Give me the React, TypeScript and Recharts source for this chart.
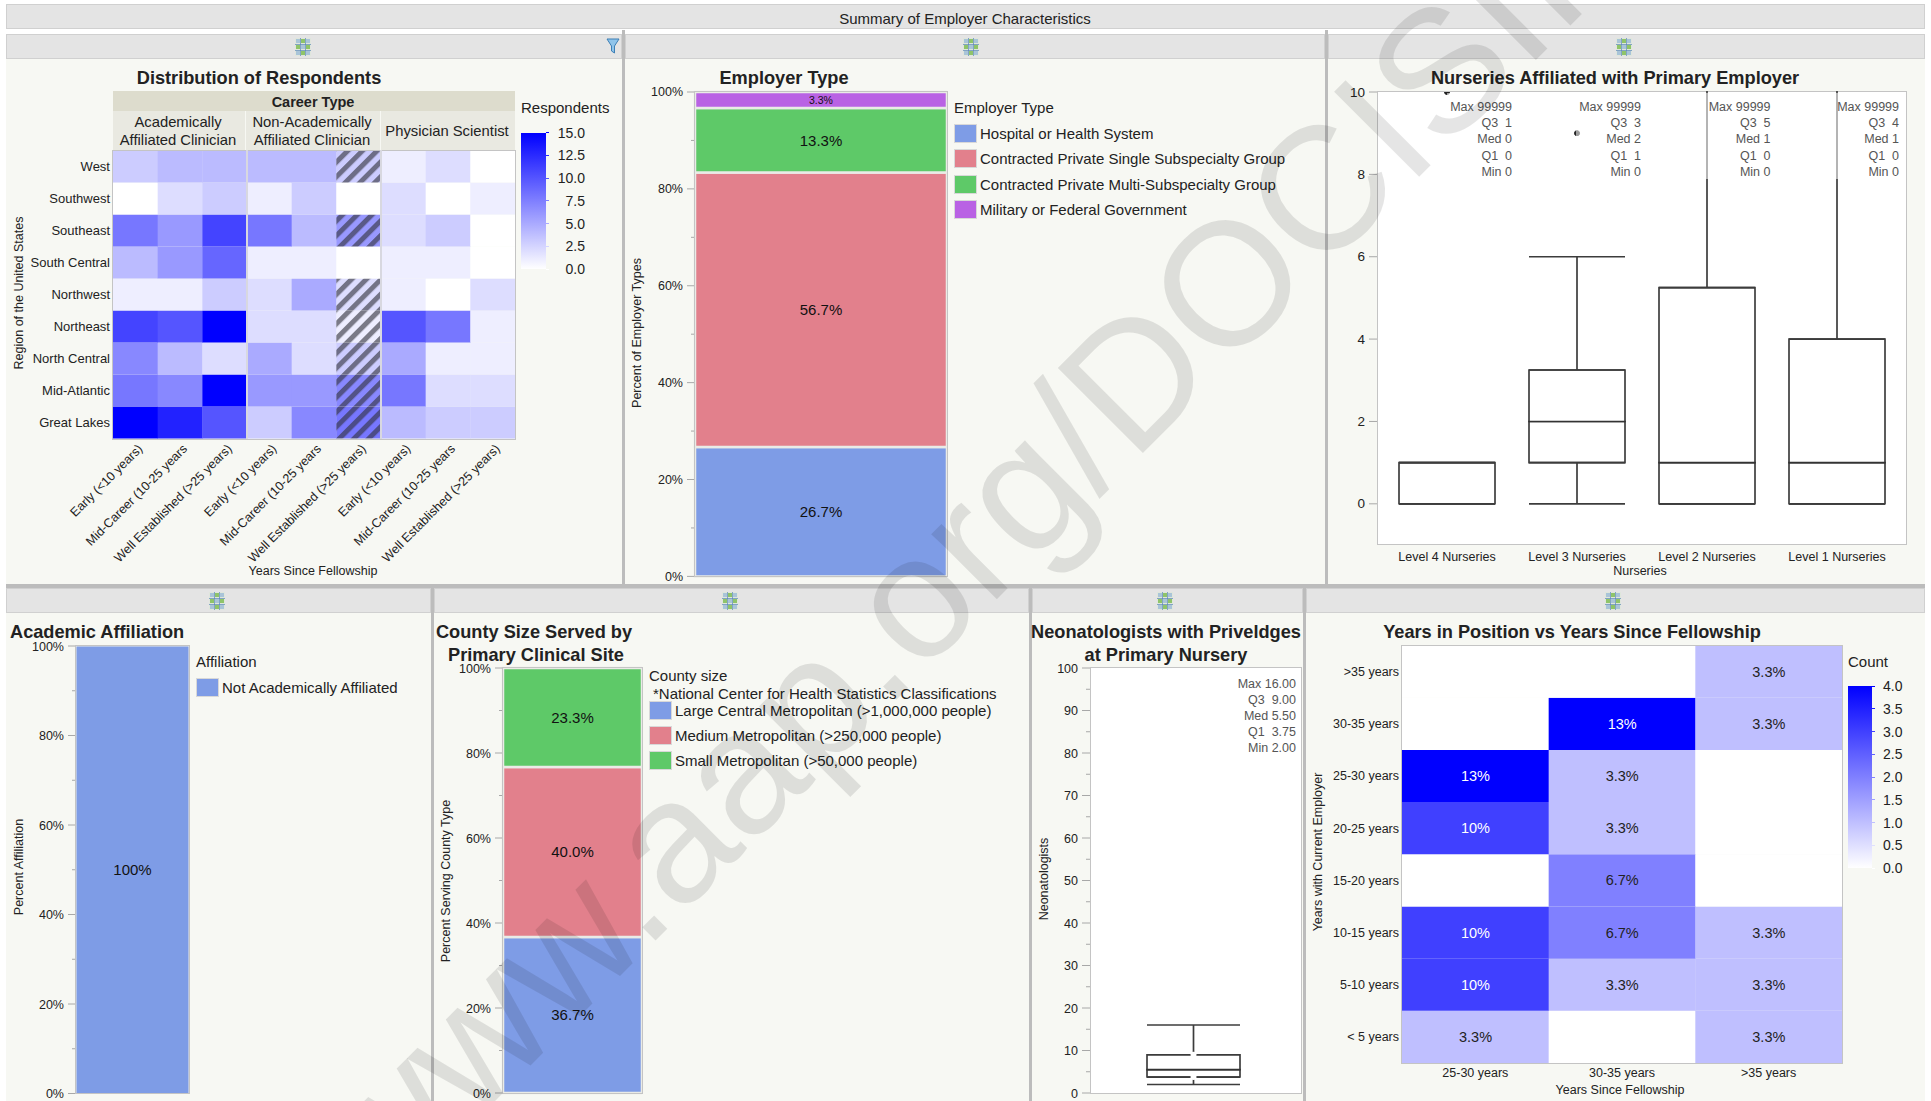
import React from 'react'
import { Bar, BarChart, Cell, ComposedChart, ErrorBar, LabelList, Line, XAxis, YAxis } from 'recharts'

// --- data ---
const regions = ['West', 'Southwest', 'Southeast', 'South Central', 'Northwest', 'Northeast', 'North Central', 'Mid-Atlantic', 'Great Lakes']
const careerStages = [
  'Early (<10 years)', 'Mid-Career (10-25 years', 'Well Established (>25 years)',
  'Early (<10 years)', 'Mid-Career (10-25 years', 'Well Established (>25 years)',
  'Early (<10 years)', 'Mid-Career (10-25 years', 'Well Established (>25 years)',
]
const respondents = [
  [3, 4, 4, 4, 4, 3, 1, 2, 0],
  [0, 2, 3, 1, 3, 0, 2, 0, 1],
  [8, 6, 11, 8, 4, 6, 2, 3, 0],
  [4, 6, 9, 1, 1, 0, 1, 1, 0],
  [1, 1, 3, 2, 5, 2, 1, 0, 2],
  [11, 10, 15, 2, 2, 1, 10, 8, 1],
  [7, 4, 2, 5, 2, 3, 5, 1, 1],
  [8, 7, 15, 6, 6, 7, 8, 2, 2],
  [15, 13, 10, 3, 7, 8, 4, 3, 3],
]
const hatchedColumn = 5
const respondentTicks = ['15.0', '12.5', '10.0', '7.5', '5.0', '2.5', '0.0']

const employerTypes = ['Hospital or Health System', 'Contracted Private Single Subspecialty Group', 'Contracted Private Multi-Subspecialty Group', 'Military or Federal Government']
const employerShares = [26.7, 56.7, 13.3, 3.3]

const affiliationTypes = ['Not Academically Affiliated']
const affiliationShares = [100]

const countySizes = ['Large Central Metropolitan (>1,000,000 people)', 'Medium Metropolitan (>250,000 people)', 'Small Metropolitan (>50,000 people)']
const countyShares = [36.7, 40.0, 23.3]

const nurseryLevels = ['Level 4 Nurseries', 'Level 3 Nurseries', 'Level 2 Nurseries', 'Level 1 Nurseries']
const nurseryMin = [0, 0, 0, 0]
const nurseryQ1 = [0, 1, 0, 0]
const nurseryMed = [0, 2, 1, 1]
const nurseryQ3 = [1, 3.25, 5.25, 4]
const nurseryMax = [1, 6, 99999, 99999]
const nurseryOutliers = [10, 9, null, null]
const nurseryStats = [
  ['Max 99999', 'Q3  1', 'Med 0', 'Q1  0', 'Min 0'],
  ['Max 99999', 'Q3  3', 'Med 2', 'Q1  1', 'Min 0'],
  ['Max 99999', 'Q3  5', 'Med 1', 'Q1  0', 'Min 0'],
  ['Max 99999', 'Q3  4', 'Med 1', 'Q1  0', 'Min 0'],
]

const neonatMin = [2]
const neonatQ1 = [3.75]
const neonatMed = [5.5]
const neonatQ3 = [9]
const neonatMax = [16]
const neonatStats = ['Max 16.00', 'Q3  9.00', 'Med 5.50', 'Q1  3.75', 'Min 2.00']

const yearsWithEmployer = ['>35 years', '30-35 years', '25-30 years', '20-25 years', '15-20 years', '10-15 years', '5-10 years', '< 5 years']
const yearsSinceFellowship = ['25-30 years', '30-35 years', '>35 years']
const positionCounts = [
  [0, 0, 1],
  [0, 4, 1],
  [4, 1, 0],
  [3, 1, 0],
  [0, 2, 0],
  [3, 2, 1],
  [3, 1, 1],
  [1, 0, 1],
]
const shareLabels = ['', '3.3%', '6.7%', '10%', '13%']
const countTicks = ['4.0', '3.5', '3.0', '2.5', '2.0', '1.5', '1.0', '0.5', '0.0']

const pctTicks = [0, 10, 20, 30, 40, 50, 60, 70, 80, 90, 100]
const neonatTicks = [0, 5, 10, 15, 20, 25, 30, 35, 40, 45, 50, 55, 60, 65, 70, 75, 80, 85, 90, 95, 100]
const nurseryTicks = [0, 2, 4, 6, 8, 10]

// --- look ---
const FONT = '"Liberation Sans", Arial, sans-serif'
const PANEL_BG = '#f7f8f3'
const HEADER_BG = '#e4e4e4'
const RULE = '#bcbcbc'
const INK = '#222'
const STACK_COLORS = ['#7e9ce6', '#e2808c', '#5ec968', '#b962e4']
const TITLE = 18.2
const PAD = 10

const heat = (v: number, max: number) => {
  const c = Math.round(255 * (1 - v / max))
  return `rgb(${c},${c},255)`
}

// --- small helpers ---
function Txt({ x, y, children, size = 13, bold = false, anchor = 'left', color = INK, rotate = 0 }: any) {
  const tx = anchor === 'left' ? '0' : anchor === 'right' ? '-100%' : '-50%'
  return (
    <div style={{
      position: 'absolute', left: x, top: y, whiteSpace: 'pre', fontSize: size, fontWeight: bold ? 700 : 400, color,
      lineHeight: 1, transform: `translate(${tx},-50%) rotate(${rotate}deg)`,
    }}>{children}</div>
  )
}

function Box({ x, y, w, h, bg, border }: any) {
  return <div style={{ position: 'absolute', left: x, top: y, width: w, height: h, background: bg, border, boxSizing: 'border-box' }} />
}

function GridIcon({ x, y }: any) {
  const cells = [0, 1, 2]
  return (
    <svg style={{ position: 'absolute', left: x - 8, top: y - 9 }} width={16} height={18}>
      <rect width={16} height={18} fill="#dfe6dc" />
      {cells.map(r => cells.map(c => (
        <rect key={`${r}${c}`} x={1 + c * 5} y={1 + r * 6} width={4} height={4} fill={(r + c) % 2 ? '#8fc46a' : '#a9c4d8'} />
      )))}
      <path d="M0 6.5H16M0 12.5H16M5.5 0V18M10.5 0V18" stroke="#5a86b8" strokeWidth={0.7} />
    </svg>
  )
}

function Funnel({ x, y }: any) {
  return (
    <svg style={{ position: 'absolute', left: x - 7, top: y - 8 }} width={14} height={17}>
      <path d="M1 1H13L8.5 8V15L5.5 13V8Z" fill="#8fc4ea" stroke="#3d7fb5" strokeWidth={1} />
    </svg>
  )
}

function Panel({ x, y, w, h, iconX }: any) {
  return (
    <>
      <Box x={x} y={y} w={w} h={25} bg={HEADER_BG} border="1px solid #d0d0d0" />
      <Box x={x} y={y + 25} w={w} h={h - 25} bg={PANEL_BG} />
      <GridIcon x={iconX} y={y + 12.5} />
    </>
  )
}

function ColorBar({ x, y, w, h, ticks, labelX, labelAnchor, size }: any) {
  return (
    <>
      <div style={{ position: 'absolute', left: x, top: y, width: w, height: h, background: 'linear-gradient(#0000ff, #ffffff)' }} />
      {ticks.map((t: string, i: number) => {
        const ty = y + (h * i) / (ticks.length - 1)
        return (
          <React.Fragment key={t}>
            <div style={{ position: 'absolute', left: x + w, top: ty - 0.5, width: 3, height: 1, background: heat(ticks.length - 1 - i, ticks.length - 1) }} />
            <Txt x={labelX} y={ty} size={size} anchor={labelAnchor}>{t}</Txt>
          </React.Fragment>
        )
      })}
    </>
  )
}

function Swatches({ x, items, ys, textX, h = 19 }: any) {
  return items.map((t: string, i: number) => (
    <React.Fragment key={t}>
      <div style={{ position: 'absolute', left: x, top: ys[i] - h / 2, width: 23, height: h, boxSizing: 'border-box', background: STACK_COLORS[i], border: '1px solid #d8d8d8' }} />
      <Txt x={textX} y={ys[i]} size={15}>{t}</Txt>
    </React.Fragment>
  ))
}

// one y axis tick: mark plus optional label
const axisTick = (fmt: (v: number) => string, isMajor: (v: number) => boolean, size = 12.5) => (p: any) => {
  const v = p.payload.value
  const major = isMajor(v)
  return (
    <g>
      <line x1={p.x - (major ? 8 : 4)} x2={p.x} y1={p.y} y2={p.y} stroke="#a8a8a8" />
      {major && <text x={p.x - 12} y={p.y + 4.5} textAnchor="end" fontSize={size} fill={INK} fontFamily={FONT}>{fmt(v)}</text>}
    </g>
  )
}

// --- charts ---
function ShareBar({ left, top, width, height, plotLeft, shares, colors, small }: any) {
  const row: any = { name: 'all' }
  shares.forEach((s: number, i: number) => { row[`s${i}`] = s })
  return (
    <div style={{ position: 'absolute', left, top: top - PAD }}>
      <BarChart width={width} height={height + 2 * PAD} data={[row]} margin={{ top: PAD, right: 0, bottom: PAD, left: 0 }} barCategoryGap={0}>
        <XAxis dataKey="name" hide />
        <YAxis
          type="number" domain={[0, 100]} ticks={pctTicks} interval={0} width={plotLeft} axisLine={false} tickLine={false}
          tickSize={0} tickMargin={0}
          tick={axisTick(v => `${v}%`, v => v % 20 === 0)}
        />
        {shares.map((s: number, i: number) => (
          <Bar key={i} dataKey={`s${i}`} stackId="a" fill={colors[i]} stroke="#eaebe6" strokeWidth={s === 100 ? 1 : 2.5} isAnimationActive={false}>
            <LabelList
              dataKey={`s${i}`} position="center" fill="#111" fontFamily={FONT} fontSize={s < 5 ? small : 15}
              formatter={(v: any) => (v === 100 ? '100%' : `${Number(v).toFixed(1)}%`)}
            />
          </Bar>
        ))}
      </BarChart>
    </div>
  )
}

function RegionHeatmap({ left, top }: any) {
  const table = careerStages.map((name, c) => {
    const row: any = { id: c, name }
    regions.forEach((_, r) => { row[`r${r}`] = 1 })
    return row
  })
  const bottomUp = regions.map((_, i) => regions.length - 1 - i)
  const hatched = [...new Set(respondents.map(cells => cells[hatchedColumn]).filter(v => v > 0))]
  return (
    <div style={{ position: 'absolute', left, top }}>
      <BarChart width={515 - left} height={583 - top} data={table} margin={{ top: 150.5 - top, right: 0, bottom: 0, left: 0 }} barCategoryGap={0}>
        <defs>
          {hatched.map(v => (
            <pattern key={v} id={`hatch-${v}`} width={10.4} height={10.4} patternUnits="userSpaceOnUse" patternTransform="rotate(45)">
              <rect width={10.4} height={10.4} fill={heat(v, 15)} />
              <rect width={5} height={10.4} fill="rgba(50,50,62,0.62)" />
            </pattern>
          ))}
        </defs>
        <XAxis
          dataKey="id" type="category" interval={0} height={583 - 438.5} axisLine={false} tickLine={false} tickSize={0} tickMargin={0}
          tick={(p: any) => (
            <text
              transform={`rotate(-45 ${p.x + 8} ${p.y + 11})`} x={p.x + 8} y={p.y + 11} textAnchor="end"
              fontSize={12.6} fill={INK} fontFamily={FONT}
            >{careerStages[p.payload.value]}</text>
          )}
        />
        <YAxis
          type="number" domain={[0, 9]} ticks={[0.5, 1.5, 2.5, 3.5, 4.5, 5.5, 6.5, 7.5, 8.5]} interval={0} width={113 - left}
          axisLine={false} tickLine={false} tickSize={0} tickMargin={3}
          tickFormatter={(v: number) => regions[regions.length - 1 - Math.floor(v)]}
          tick={{ fontSize: 13, fill: INK, fontFamily: FONT }}
        />
        {bottomUp.map(r => (
          <Bar key={r} dataKey={`r${r}`} stackId="h" isAnimationActive={false}>
            {careerStages.map((_, c) => {
              const v = respondents[r][c]
              return <Cell key={c} fill={c === hatchedColumn && v > 0 ? `url(#hatch-${v})` : heat(v, 15)} />
            })}
          </Bar>
        ))}
      </BarChart>
    </div>
  )
}

function PositionHeatmap({ left, top }: any) {
  const table = yearsSinceFellowship.map(name => {
    const row: any = { name }
    yearsWithEmployer.forEach((_, r) => { row[`r${r}`] = 1 })
    return row
  })
  const bottomUp = yearsWithEmployer.map((_, i) => yearsWithEmployer.length - 1 - i)
  return (
    <div style={{ position: 'absolute', left, top }}>
      <BarChart width={1842 - left} height={1084 - top} data={table} margin={{ top: 645.5 - top, right: 0, bottom: 0, left: 0 }} barCategoryGap={0}>
        <XAxis
          dataKey="name" interval={0} height={21} axisLine={false} tickLine={false} tickSize={0} tickMargin={5}
          tick={{ fontSize: 12.5, fill: INK, fontFamily: FONT }}
        />
        <YAxis
          type="number" domain={[0, 8]} ticks={[0.5, 1.5, 2.5, 3.5, 4.5, 5.5, 6.5, 7.5]} interval={0} width={1402 - left}
          axisLine={false} tickLine={false} tickSize={0} tickMargin={3}
          tickFormatter={(v: number) => yearsWithEmployer[yearsWithEmployer.length - 1 - Math.floor(v)]}
          tick={{ fontSize: 12.5, fill: INK, fontFamily: FONT }}
        />
        {bottomUp.map(r => (
          <Bar key={r} dataKey={`r${r}`} stackId="h" isAnimationActive={false}>
            {yearsSinceFellowship.map((_, c) => <Cell key={c} fill={heat(positionCounts[r][c], 4)} />)}
            <LabelList
              dataKey={`r${r}`}
              content={(p: any) => {
                const v = positionCounts[r][p.index]
                if (!v) return null
                return (
                  <text x={p.x + p.width / 2} y={p.y + p.height / 2 + 5} textAnchor="middle" fontSize={14.5} fontFamily={FONT} fill={v >= 3 ? '#fff' : '#222'}>
                    {shareLabels[v]}
                  </text>
                )
              }}
            />
          </Bar>
        ))}
      </BarChart>
    </div>
  )
}

function BoxChart({ left, top, width, height, margin, names, min, q1, med, q3, max, outliers, domain, ticks, tick, plotLeft, barSize, capWidth, xHeight, padding }: any) {
  const table = names.map((name: string, i: number) => ({
    name,
    base: q1[i],
    lower: med[i] - q1[i],
    upper: q3[i] - med[i],
    q1: q1[i],
    q3: q3[i],
    downWhisker: [q1[i] - min[i], 0],
    upWhisker: [0, max[i] - q3[i]],
    outlier: outliers ? outliers[i] : null,
  }))
  return (
    <div style={{ position: 'absolute', left, top }}>
      <ComposedChart width={width} height={height} data={table} margin={margin} barCategoryGap={0}>
        <XAxis
          dataKey="name" interval={0} height={xHeight} hide={!xHeight} padding={padding} axisLine={false} tickLine={false} tickSize={0} tickMargin={7}
          tick={{ fontSize: 12.5, fill: INK, fontFamily: FONT }}
        />
        <YAxis
          type="number" domain={domain} allowDataOverflow ticks={ticks} interval={0} width={plotLeft} axisLine={false} tickLine={false}
          tickSize={0} tickMargin={0} tick={tick}
        />
        <Line dataKey="q3" stroke="none" dot={false} isAnimationActive={false}>
          <ErrorBar dataKey="upWhisker" direction="y" width={capWidth} stroke="#3c3c3c" strokeWidth={1.7} isAnimationActive={false} />
        </Line>
        <Line dataKey="q1" stroke="none" dot={false} isAnimationActive={false}>
          <ErrorBar dataKey="downWhisker" direction="y" width={capWidth} stroke="#3c3c3c" strokeWidth={1.7} isAnimationActive={false} />
        </Line>
        <Bar dataKey="base" stackId="b" fill="none" stroke="none" barSize={barSize} isAnimationActive={false} />
        <Bar dataKey="lower" stackId="b" fill="#fff" stroke="#333" strokeWidth={1.6} barSize={barSize} isAnimationActive={false} />
        <Bar dataKey="upper" stackId="b" fill="#fff" stroke="#333" strokeWidth={1.6} barSize={barSize} isAnimationActive={false} />
        {outliers && <Line dataKey="outlier" stroke="none" dot={{ r: 2.5, fill: '#222', stroke: '#222' }} connectNulls={false} isAnimationActive={false} />}
      </ComposedChart>
    </div>
  )
}

function StatBlock({ right, ys, lines }: any) {
  return lines.map((t: string, i: number) => (
    <Txt key={t} x={right} y={ys[i]} size={12.5} anchor="right" color="#555">{t}</Txt>
  ))
}

export default function App() {
  const nurseryStatYs = [107, 123, 139, 155.5, 171.5]
  const neonatStatYs = [683.7, 699.6, 716, 732, 748]
  const nurseryRights = [1512, 1641, 1770.5, 1899]
  return (
    <div style={{ position: 'absolute', left: 0, top: 0, width: 1931, height: 1101, overflow: 'hidden', background: '#fff', fontFamily: FONT }}>
      {/* dashboard frame */}
      <Box x={6} y={4} w={1919} h={25} bg={HEADER_BG} border="1px solid #d0d0d0" />
      <Txt x={965} y={17.5} size={15} anchor="center">Summary of Employer Characteristics</Txt>

      <Panel x={6} y={34} w={616} h={551} iconX={303} />
      <Panel x={625} y={34} w={700} h={551} iconX={971} />
      <Panel x={1328} y={34} w={597} h={551} iconX={1624} />
      <Panel x={6} y={588} w={425} h={513} iconX={217} />
      <Panel x={434} y={588} w={595} h={513} iconX={730} />
      <Panel x={1032} y={588} w={271} h={513} iconX={1165} />
      <Panel x={1306} y={588} w={619} h={513} iconX={1613} />
      <Box x={622} y={30} w={3} h={556} bg={RULE} />
      <Box x={1325} y={30} w={3} h={556} bg={RULE} />
      <Box x={6} y={584} w={1919} h={4} bg={RULE} />
      <Box x={431} y={588} w={3} h={513} bg={RULE} />
      <Box x={1029} y={588} w={3} h={513} bg={RULE} />
      <Box x={1303} y={588} w={3} h={513} bg={RULE} />
      <Funnel x={613} y={46} />

      {/* Distribution of Respondents */}
      <Txt x={259} y={78} size={TITLE} bold anchor="center">Distribution of Respondents</Txt>
      <Box x={113} y={91} w={402} h={20} bg="#dddccd" />
      <Txt x={313} y={101.5} size={14.5} bold anchor="center">Career Type</Txt>
      <Box x={113} y={111} w={132} h={39} bg="#e9e9e1" />
      <Box x={246} y={111} w={134} h={39} bg="#e9e9e1" />
      <Box x={381} y={111} w={134} h={39} bg="#e9e9e1" />
      <Txt x={178} y={122} size={14.8} anchor="center">Academically</Txt>
      <Txt x={178} y={140} size={14.8} anchor="center">Affiliated Clinician</Txt>
      <Txt x={312} y={122} size={14.8} anchor="center">Non-Academically</Txt>
      <Txt x={312} y={140} size={14.8} anchor="center">Affiliated Clinician</Txt>
      <Txt x={447} y={131} size={14.8} anchor="center">Physician Scientist</Txt>
      <RegionHeatmap left={22} top={120} />
      <Box x={112} y={149.5} w={404} h={290} border="1.5px solid #c4c4c4" />
      <Box x={246} y={150} w={1.5} h={289} bg="#d8d8e0" />
      <Box x={380} y={150} w={1.5} h={289} bg="#d8d8e0" />
      <Txt x={19} y={293} size={12.5} anchor="center" rotate={-90}>Region of the United States</Txt>
      <Txt x={313} y={571} size={12.5} anchor="center">Years Since Fellowship</Txt>
      <Txt x={521} y={107} size={15}>Respondents</Txt>
      <ColorBar x={521} y={132.5} w={25} h={136.5} ticks={respondentTicks} labelX={585} labelAnchor="right" size={14} />

      {/* Employer Type */}
      <Txt x={784} y={78} size={TITLE} bold anchor="center">Employer Type</Txt>
      <ShareBar left={640} top={91.6} width={307} height={484.4} plotLeft={55} shares={employerShares} colors={STACK_COLORS} small={10.5} />
      <Box x={694} y={90.6} w={254} h={486.4} border="1.5px solid #c4c4c4" />
      <Txt x={636.5} y={333} size={12.5} anchor="center" rotate={-90}>Percent of Employer Types</Txt>
      <Txt x={954} y={107} size={15}>Employer Type</Txt>
      <Swatches x={954} items={employerTypes} ys={[133, 158, 184, 209]} textX={980} />

      {/* Nurseries */}
      <Box x={1377} y={91} w={530} h={454} bg="#fff" border="1.5px solid #c4c4c4" />
      <BoxChart
        left={1340} top={91.6 - PAD} width={567} height={453 + 24 + PAD}
        margin={{ top: PAD, right: 0, bottom: 0, left: 0 }}
        names={nurseryLevels} min={nurseryMin} q1={nurseryQ1} med={nurseryMed} q3={nurseryQ3} max={nurseryMax} outliers={nurseryOutliers}
        domain={[-1, 10]} ticks={nurseryTicks} plotLeft={37} barSize={96} capWidth={48} xHeight={24} padding={{ left: 5, right: 5 }}
        tick={axisTick(v => String(v), () => true, 13.5)}
      />
      {/* the open-ended whiskers stop at the top of the plot */}
      <Box x={1380} y={78} w={525} h={12.5} bg={PANEL_BG} />
      <Txt x={1615} y={78} size={TITLE} bold anchor="center">Nurseries Affiliated with Primary Employer</Txt>
      {nurseryRights.map((r, i) => (
        <React.Fragment key={r}>
          <div style={{ position: 'absolute', left: r - 65, top: 93, width: 66, height: 86, background: 'rgba(255,255,255,0.55)' }} />
          <StatBlock right={r} ys={nurseryStatYs} lines={nurseryStats[i]} />
        </React.Fragment>
      ))}
      <Txt x={1640} y={571} size={12.5} anchor="center">Nurseries</Txt>

      {/* Academic Affiliation */}
      <Txt x={10} y={632} size={TITLE} bold>Academic Affiliation</Txt>
      <ShareBar left={16} top={645.5} width={173} height={447.5} plotLeft={60} shares={affiliationShares} colors={STACK_COLORS} small={10.5} />
      <Box x={75} y={644.5} w={115} h={449.5} border="1.5px solid #c4c4c4" />
      <Txt x={19} y={867} size={12.5} anchor="center" rotate={-90}>Percent Affiliation</Txt>
      <Txt x={196} y={661} size={15}>Affiliation</Txt>
      <Swatches x={196} items={affiliationTypes} ys={[687]} textX={222} />

      {/* County Size */}
      <Txt x={534} y={632} size={TITLE} bold anchor="center">County Size Served by</Txt>
      <Txt x={536} y={655} size={TITLE} bold anchor="center">Primary Clinical Site</Txt>
      <ShareBar left={443} top={668} width={199} height={425} plotLeft={60} shares={countyShares} colors={STACK_COLORS} small={10.5} />
      <Box x={502} y={667} w={141} h={427} border="1.5px solid #c4c4c4" />
      <Txt x={446} y={881} size={12.5} anchor="center" rotate={-90}>Percent Serving County Type</Txt>
      <Txt x={649} y={675} size={15}>County size</Txt>
      <Txt x={653} y={693} size={15}>*National Center for Health Statistics Classifications</Txt>
      <Swatches x={649} items={countySizes} ys={[710, 735, 760]} textX={675} />

      {/* Neonatologists */}
      <Txt x={1166} y={632} size={TITLE} bold anchor="center">Neonatologists with Priveldges</Txt>
      <Txt x={1166} y={655} size={TITLE} bold anchor="center">at Primary Nursery</Txt>
      <Box x={1090} y={667} w={212} h={427} bg="#fff" border="1.5px solid #c4c4c4" />
      <BoxChart
        left={1052} top={668 - PAD} width={250} height={425 + 2 * PAD}
        margin={{ top: PAD, right: 0, bottom: PAD, left: 0 }}
        names={['Neonatologists']} min={neonatMin} q1={neonatQ1} med={neonatMed} q3={neonatQ3} max={neonatMax}
        domain={[0, 100]} ticks={neonatTicks} plotLeft={38} barSize={93} capWidth={46.5} xHeight={0} padding={{ left: 0, right: 5 }}
        tick={axisTick(v => String(v), v => v % 10 === 0)}
      />
      <StatBlock right={1296} ys={neonatStatYs} lines={neonatStats} />
      <Txt x={1044} y={879} size={12.5} anchor="center" rotate={-90}>Neonatologists</Txt>

      {/* Years in Position */}
      <Txt x={1572} y={632} size={TITLE} bold anchor="center">Years in Position vs Years Since Fellowship</Txt>
      <PositionHeatmap left={1326} top={630} />
      <Box x={1401} y={644.5} w={442} h={419.5} border="1.5px solid #c4c4c4" />
      <Txt x={1318} y={852} size={12.5} anchor="center" rotate={-90}>Years with Current Employer</Txt>
      <Txt x={1620} y={1090} size={12.5} anchor="center">Years Since Fellowship</Txt>
      <Txt x={1848} y={661} size={15}>Count</Txt>
      <ColorBar x={1848} y={686} w={24} h={182} ticks={countTicks} labelX={1883} labelAnchor="left" size={14} />

      {/* watermark */}
      <svg width={1931} height={1101} style={{ position: 'absolute', left: 0, top: 0, pointerEvents: 'none' }}>
        <text x={383} y={1213} transform="rotate(-45 383 1213)" fontSize={175} fill="rgba(0,0,0,0.1)" fontFamily={FONT}>www.aap.org/DOCISII</text>
      </svg>
    </div>
  )
}
